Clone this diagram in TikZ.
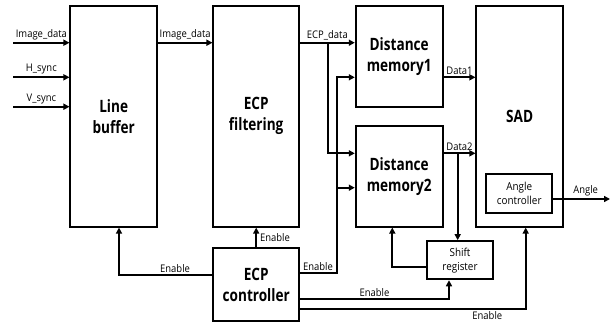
\documentclass[tikz,border=0pt]{standalone}
\usepackage{fontspec}
\setmainfont{Open Sans}[FakeStretch=0.9]
\newfontfamily\boxfont{Open Sans}[FakeStretch=0.8]
\usetikzlibrary{arrows.meta}
\tikzset{
  x=1pt, y=-1pt,
  blk/.style={draw, line width=1.8pt, inner sep=0pt, align=center,
    font=\boxfont\bfseries\fontsize{17}{21}\selectfont},
  small/.style={draw, line width=1.8pt, inner sep=0pt, align=center,
    font=\fontsize{11}{14}\selectfont},
  arr/.style={line width=1.7pt, -{Triangle[length=6pt,width=6pt]}},
  lbl/.style={font=\fontsize{10.5}{12}\selectfont, inner sep=1pt}
}
\begin{document}
\begin{tikzpicture}
\useasboundingbox (0,0) rectangle (614,322);
% blocks
\node[blk, minimum width=86.7pt, minimum height=221pt] (LB) at (113.7,116.2) {Line\\buffer};
\node[blk, minimum width=85.7pt, minimum height=221pt] (EF) at (256.2,116.2) {ECP\\filtering};
\node[blk, minimum width=87pt, minimum height=101.3pt] (DM1) at (399.2,56.3) {Distance\\memory1};
\node[blk, minimum width=87pt, minimum height=100.7pt] (DM2) at (399.2,176.3) {Distance\\memory2};
\node[blk, minimum width=86.7pt, minimum height=221pt] (SAD) at (519.7,116.2) {SAD};
\node[small, minimum width=66.3pt, minimum height=39pt] (AC) at (519.2,193.8) {Angle\\controller};
\node[small, minimum width=65.3pt, minimum height=38.3pt] (SR) at (460,260.2) {Shift\\register};
\node[blk, minimum width=85.7pt, minimum height=73pt] (EC) at (256.2,284.7) {ECP\\controller};
% free ends and branch points
\coordinate (in1) at (13.3,42.7);
\coordinate (in2) at (13.3,77.3);
\coordinate (in3) at (13.3,106.7);
\coordinate (out) at (610,199);
\coordinate (b1) at (327.7,42.7);
\coordinate (b2) at (336.7,187.7);
\coordinate (b3) at (457.7,153.3);
% inputs
\draw[arr] (in1) -- node[lbl, above=1pt] {Image\_data} (in1 -| LB.west);
\draw[arr] (in2) -- node[lbl, above=1pt] {H\_sync} (in2 -| LB.west);
\draw[arr] (in3) -- node[lbl, above=1pt] {V\_sync} (in3 -| LB.west);
% data path
\draw[arr] (LB.east |- in1) -- node[lbl, above=1pt] {Image\_data} (EF.west |- in1);
\draw[arr] (EF.east |- in1) -- node[lbl, above=1pt] {ECP\_data} (DM1.west |- in1);
\draw[arr] (b1) |- (DM2.west |- b3);
\draw[arr] (DM1.east |- 0,77.3) -- node[lbl, above=1pt] {Data1} (SAD.west |- 0,77.3);
\draw[arr] (DM2.east |- b3) -- node[lbl, above=1pt] {Data2} (SAD.west |- b3);
\draw[arr] (b3) -- (b3 |- SR.north);
\draw[arr] (SR.west |- 0,267.3) -| (392.3,0 |- DM2.south);
\draw[arr] (AC.east |- out) -- node[lbl, above=1pt, xshift=4pt] {Angle} (out);
% enables from the ECP controller
\draw[arr] (256.2,0 |- EC.north) -- node[lbl, right=2pt] {Enable} (256.2,0 |- EF.south);
\draw[arr] (EC.west |- 0,275) -| node[lbl, above=1pt, pos=0.2] {Enable} (119,0 |- LB.south);
\draw[arr] (EC.east |- 0,273.3) -| node[lbl, anchor=south east, xshift=-2pt, yshift=1pt, pos=0.5] {Enable} (b2 |- 0,77.3) -- (DM1.west |- 0,77.3);
\draw[arr] (b2) -- (DM2.west |- b2);
\draw[arr] (EC.east |- 0,299.3) -| node[lbl, above=1pt, pos=0.25] {Enable} (449,0 |- SR.south);
\draw[arr] (EC.east |- 0,308.7) -| node[lbl, below=1pt, pos=0.415] {Enable} (525.7,0 |- SAD.south);
\end{tikzpicture}
\end{document}
